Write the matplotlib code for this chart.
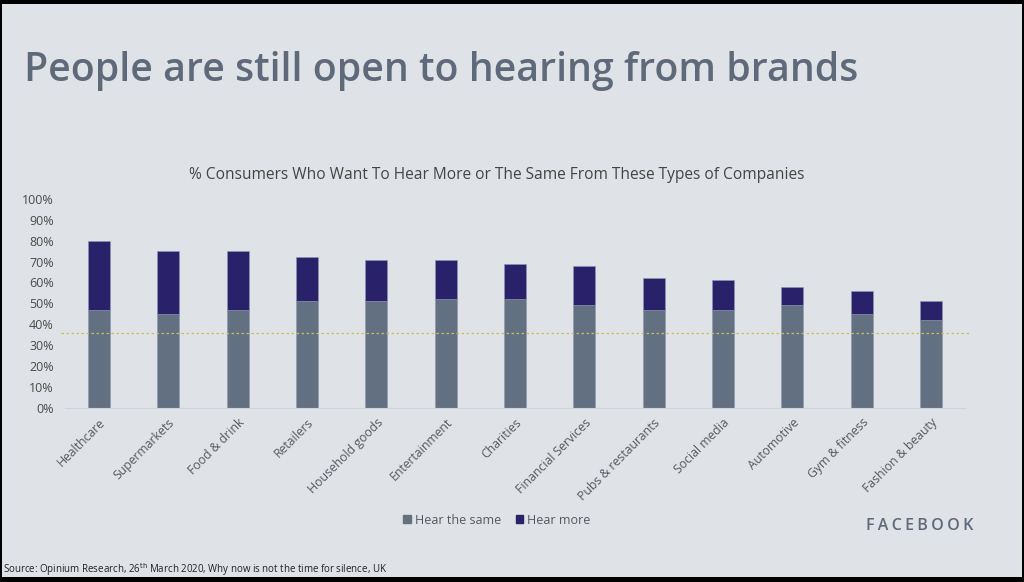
import matplotlib.pyplot as plt
from matplotlib.patches import Rectangle
from matplotlib.patches import Patch
import numpy as np

# data (% of consumers)
categories = ['Healthcare', 'Supermarkets', 'Food & drink', 'Retailers', 'Household goods',
              'Entertainment', 'Charities', 'Financial Services', 'Pubs & restaurants',
              'Social media', 'Automotive', 'Gym & fitness', 'Fashion & beauty']
hear_same = [47, 45, 47, 51, 51, 52, 52, 49, 47, 47, 49, 45, 42]
hear_total = [80, 75, 75, 72, 71, 71, 69, 68, 62, 61, 58, 56, 51]
hear_more = [t - s for t, s in zip(hear_total, hear_same)]
ref_line = 36
y_ticks = list(range(0, 101, 10))

bg = '#dfe2e6'
c_same = '#637082'
c_more = '#29226a'
title_col = '#5e6a7a'

plt.rcParams['font.family'] = ['Open Sans', 'DejaVu Sans']

fig = plt.figure(figsize=(10.24, 5.82), dpi=100, facecolor='black')
# grey slide inside the black screenshot border
fig.patches.append(Rectangle((2 / 1024, 5 / 582), 1020 / 1024, 573 / 582,
                             transform=fig.transFigure, facecolor=bg, edgecolor='none', zorder=-10))

ax = fig.add_axes([65 / 1024, 1 - 407.7 / 582, 900 / 1024, 208.7 / 582])
ax.set_facecolor('none')

x = np.arange(len(categories))
w = 0.32
ax.bar(x, hear_same, width=w, color=c_same, edgecolor='#8d97b3', linewidth=0.4, label='Hear the same', zorder=2)
ax.bar(x, hear_more, bottom=hear_same, width=w, color=c_more, edgecolor='#8d97b3', linewidth=0.4,
       label='Hear more', zorder=2)

ax.axhline(ref_line, xmin=-0.004, xmax=1.006, color='#cbbd55', lw=0.9, ls=(0, (2, 2)), zorder=3, clip_on=False)

ax.set_xlim(-0.49, len(categories) - 0.51)
ax.set_ylim(0, 100)
ax.set_yticks(y_ticks)
ax.set_yticklabels([f'{v}%' for v in y_ticks], fontsize=9, color='#4a4a4a')
ax.set_xticks(x)
ax.set_xticklabels(categories, rotation=45, ha='right', rotation_mode='anchor', fontsize=8.8, color='#555a60')
ax.tick_params(length=0, axis='both')
ax.tick_params(axis='x', pad=6)
ax.tick_params(axis='y', pad=8)
for s in ['top', 'right', 'left']:
    ax.spines[s].set_visible(False)
ax.spines['bottom'].set_color('#d0d4da')
ax.spines['bottom'].set_linewidth(0.8)

fig.text(24 / 1024, 1 - 81 / 582, 'People are still open to hearing from brands', fontsize=28.3,
         color=title_col, ha='left', va='baseline', fontweight='semibold')
fig.text(497 / 1024, 1 - 175 / 582, '% Consumers Who Want To Hear More or The Same From These Types of Companies',
         fontsize=11.2, color='#444444', ha='center', va='center')

handles = [Patch(color=c_same, label='Hear the same'), Patch(color=c_more, label='Hear more')]
fig.legend(handles=handles, loc='center', bbox_to_anchor=(497 / 1024, 1 - 520 / 582), ncol=2, frameon=False,
           fontsize=9, handlelength=0.6, handleheight=0.6, handletextpad=0.3, columnspacing=1.2,
           labelcolor='#555a60')

fig.text(920 / 1024, 1 - 526 / 582, '\u2009'.join('FACEBOOK'), fontsize=11.5, color=title_col,
         ha='center', va='center', fontweight='semibold')
fig.text(3 / 1024, 1 - 570 / 582, r'Source: Opinium Research, 26$^{\rm th}$ March 2020, Why now is not the time for silence, UK',
         fontsize=7, color='#222222', ha='left', va='center')

fig.savefig('out.png', dpi=100, facecolor=fig.get_facecolor())
